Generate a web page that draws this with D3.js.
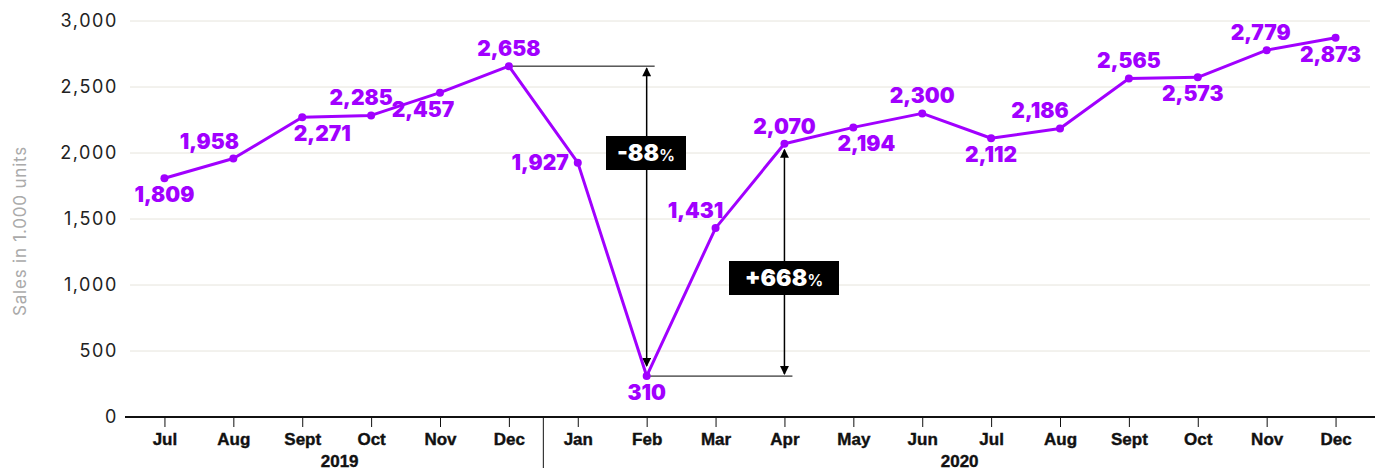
<!DOCTYPE html>
<html>
<head>
<meta charset="utf-8">
<script src="https://cdn.jsdelivr.net/npm/d3@7"></script>
<style>
  body { margin: 0; background: #fff; }
  svg { display: block; }
</style>
</head>
<body>
<div id="chart"></div>
<script>
// data
var months = ['Jul', 'Aug', 'Sept', 'Oct', 'Nov', 'Dec', 'Jan', 'Feb', 'Mar', 'Apr', 'May', 'Jun', 'Jul', 'Aug', 'Sept', 'Oct', 'Nov', 'Dec'];
var years = ['2019', '2019', '2019', '2019', '2019', '2019', '2020', '2020', '2020', '2020', '2020', '2020', '2020', '2020', '2020', '2020', '2020', '2020'];
var sales = [1809, 1958, 2271, 2285, 2457, 2658, 1927, 310, 1431, 2070, 2194, 2300, 2112, 2186, 2565, 2573, 2779, 2873];
var yTicks = [0, 500, 1000, 1500, 2000, 2500, 3000];
// where each value label sits: a = above, b = below, l = left
var labelSide = ['b', 'a', 'b', 'a', 'b', 'a', 'l', 'b', 'a', 'a', 'b', 'a', 'b', 'a', 'a', 'b', 'a', 'b'];
var labelShift = [0, -24, 20, -10, -17, 0, 0, 0, -20, 0, 13, 0, 0, -20, 0, -5, -6, -5];
// percent change callouts: from index to index
var changes = [{from: 5, to: 7, text: '-88'}, {from: 7, to: 9, text: '+668'}];

var W = 1381, H = 472;
var purple = '#a100ff';

var svg = d3.select('#chart').append('svg')
  .attr('width', W).attr('height', H);

var x = d3.scalePoint()
  .domain(d3.range(months.length))
  .range([130, 1370])
  .padding(0.5);

var y = d3.scaleLinear()
  .domain([0, 3000])
  .range([417, 21]);

// gridlines
svg.append('g').selectAll('line')
  .data(yTicks.filter(function(d){ return d > 0; }))
  .enter().append('line')
  .attr('x1', 130).attr('x2', 1370)
  .attr('y1', function(d){ return y(d); })
  .attr('y2', function(d){ return y(d); })
  .attr('stroke', '#e6e4dc')
  .attr('stroke-width', 1);

// y axis labels
var yAxis = d3.axisLeft(y)
  .tickValues(yTicks)
  .tickFormat(d3.format(','))
  .tickSize(0)
  .tickPadding(0);

var yg = svg.append('g')
  .attr('transform', 'translate(118,0)')
  .call(yAxis);
yg.select('.domain').remove();
yg.selectAll('text')
  .attr('font-family', 'Inter, sans-serif')
  .attr('font-size', 18)
  .attr('fill', '#222')
  .attr('letter-spacing', 1.6);

svg.append('text')
  .attr('transform', 'translate(26,231) rotate(-90)')
  .attr('text-anchor', 'middle')
  .attr('font-family', 'Inter, sans-serif')
  .attr('font-size', 17)
  .attr('letter-spacing', 0.8)
  .attr('fill', '#aaa')
  .text('Sales in 1.000 units');

// x axis
var xAxis = d3.axisBottom(x)
  .tickFormat(function(i){ return months[i]; })
  .tickSize(10)
  .tickPadding(6);

var xg = svg.append('g')
  .attr('transform', 'translate(0,417)')
  .call(xAxis);
xg.select('.domain').remove();
xg.selectAll('.tick line').attr('stroke', '#111').attr('stroke-width', 1);
xg.selectAll('text')
  .attr('font-family', '"Liberation Sans", Arial, sans-serif')
  .attr('font-weight', 'bold')
  .attr('font-size', 17)
  .attr('fill', '#111')
  .attr('stroke', '#111')
  .attr('stroke-width', 0.4);

svg.append('line')
  .attr('x1', 125).attr('x2', 1375)
  .attr('y1', 417).attr('y2', 417)
  .attr('stroke', '#111').attr('stroke-width', 2);

// year separator and labels
var yearGroups = d3.groups(d3.range(months.length), function(i){ return years[i]; });
var sepX = (x(5) + x(6)) / 2;
svg.append('line')
  .attr('x1', sepX).attr('x2', sepX)
  .attr('y1', 417).attr('y2', 468)
  .attr('stroke', '#111').attr('stroke-width', 1);

svg.append('g').selectAll('text')
  .data(yearGroups)
  .enter().append('text')
  .attr('x', function(d){ return (x(d[1][0]) + x(d[1][d[1].length - 1])) / 2 + 3; })
  .attr('y', 467)
  .attr('text-anchor', 'middle')
  .attr('font-family', '"Liberation Sans", Arial, sans-serif')
  .attr('font-weight', 'bold')
  .attr('font-size', 17)
  .attr('fill', '#111')
  .attr('stroke', '#111')
  .attr('stroke-width', 0.4)
  .text(function(d){ return d[0]; });

// callouts
var callouts = svg.append('g');
var defs = svg.append('defs');
defs.append('marker')
  .attr('id', 'arrow')
  .attr('viewBox', '0 0 10 10')
  .attr('refX', 9).attr('refY', 5)
  .attr('markerWidth', 10).attr('markerHeight', 9)
  .attr('orient', 'auto-start-reverse')
  .attr('markerUnits', 'userSpaceOnUse')
  .append('path')
  .attr('d', 'M0,0 L10,5 L0,10 z')
  .attr('fill', '#000');

changes.forEach(function(c){
  var falling = sales[c.from] > sales[c.to];
  var hiIdx = falling ? c.from : c.to;
  var loIdx = falling ? c.to : c.from;
  var ax = x(c.to);
  // horizontal guide from the point that is not under the arrow
  var guideIdx = falling ? hiIdx : loIdx;
  callouts.append('line')
    .attr('x1', x(guideIdx)).attr('x2', ax + 8)
    .attr('y1', y(sales[guideIdx])).attr('y2', y(sales[guideIdx]))
    .attr('stroke', '#000').attr('stroke-width', 1);
  callouts.append('line')
    .attr('x1', ax).attr('x2', ax)
    .attr('y1', y(sales[hiIdx]) + (falling ? 2 : 6))
    .attr('y2', y(sales[loIdx]) - (falling ? 10 : 2))
    .attr('stroke', '#000').attr('stroke-width', 1.5)
    .attr('marker-start', 'url(#arrow)')
    .attr('marker-end', 'url(#arrow)');
});

// line and points
svg.append('path')
  .datum(sales)
  .attr('fill', 'none')
  .attr('stroke', purple)
  .attr('stroke-width', 3)
  .attr('stroke-linejoin', 'round')
  .attr('d', d3.line()
    .x(function(d, i){ return x(i); })
    .y(function(d){ return y(d); }));

svg.append('g').selectAll('circle')
  .data(sales)
  .enter().append('circle')
  .attr('cx', function(d, i){ return x(i); })
  .attr('cy', function(d){ return y(d); })
  .attr('r', 4)
  .attr('fill', purple);

// value labels
svg.append('g').selectAll('text')
  .data(sales)
  .enter().append('text')
  .attr('x', function(d, i){
    if (labelSide[i] === 'l') return x(i) - 9;
    return x(i) + labelShift[i];
  })
  .attr('y', function(d, i){
    if (labelSide[i] === 'a') return y(d) - 10;
    if (labelSide[i] === 'b') return y(d) + 24;
    return y(d) + 7;
  })
  .attr('text-anchor', function(d, i){ return labelSide[i] === 'l' ? 'end' : 'middle'; })
  .attr('font-family', 'Inter, sans-serif')
  .attr('font-weight', 900)
  .attr('font-size', 21)
  .attr('fill', purple)
  .text(function(d){ return d3.format(',')(d); });

// percent boxes
var boxes = [
  {c: changes[0], cx: 646, cy: 153, w: 80, h: 34},
  {c: changes[1], cx: 784, cy: 278, w: 110, h: 34}
];
boxes.forEach(function(b){
  var g = svg.append('g');
  g.append('rect')
    .attr('x', b.cx - b.w / 2).attr('y', b.cy - b.h / 2)
    .attr('width', b.w).attr('height', b.h)
    .attr('fill', '#000');
  var t = g.append('text')
    .attr('x', b.cx).attr('y', b.cy + 8)
    .attr('text-anchor', 'middle')
    .attr('font-family', 'Inter, sans-serif')
    .attr('font-weight', 900)
    .attr('fill', '#fff');
  t.append('tspan').attr('font-size', 23).text(b.c.text);
  t.append('tspan').attr('font-size', 16).attr('font-weight', 600).text('%');
});
</script>
</body>
</html>
